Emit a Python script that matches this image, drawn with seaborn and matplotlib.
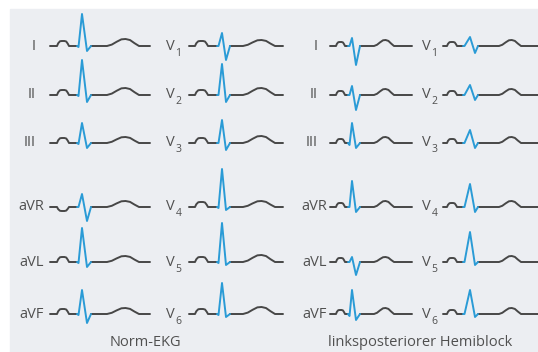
import matplotlib
matplotlib.use("Agg")
import matplotlib.pyplot as plt
import seaborn as sns
from matplotlib.patches import Rectangle

# ─── Data (amplitudes in px, positive = up) ──────────────────────────────────
LIMB_LEADS = ["I", "II", "III", "aVR", "aVL", "aVF"]
CHEST_LEADS = ["1", "2", "3", "4", "5", "6"]
ROW_Y = [46, 95, 143, 207, 262, 314]

norm_limb_p = [5, 5, 5, -4, 5, 5]
norm_limb_q = [1, 1, 1, 0, 1, 1]
norm_limb_r = [32, 35, 20, 13, 34, 24]
norm_limb_s = [5, 7, 5, 14, 5, 9]
norm_limb_t = [7, 7, 6, 6, 6, 6]

norm_chest_p = [5, 5, 5, 5, 5, 5]
norm_chest_q = [0, 0, 0, 1, 1, 1]
norm_chest_r = [13, 31, 23, 38, 39, 31]
norm_chest_s = [14, 7, 7, 3, 3, 3]
norm_chest_t = [6, 7, 7, 6, 7, 7]

lphb_limb_p = [4, 4, 4, 4, 4, 4]
lphb_limb_q = [0, 0, 2, 0, 0, 2]
lphb_limb_r = [8, 9, 20, 26, 5, 24]
lphb_limb_s = [19, 15, 5, 5, 13, 6]
lphb_limb_t = [6, 6, 6, 6, 5, 6]

lphb_chest_p = [4, 4, 4, 4, 4, 4]
lphb_chest_q = [0, 0, 0, 0, 0, 0]
lphb_chest_r = [9, 10, 13, 23, 30, 24]
lphb_chest_s = [7, 5, 5, 5, 3, 3]
lphb_chest_t = [6, 6, 6, 6, 6, 6]

PANEL_TITLES = ["Norm-EKG", "linksposteriorer Hemiblock"]

# ─── Style ───────────────────────────────────────────────────────────────────
BLUE = "#2a9bd6"
TRACE = "#474747"
TEXT = "#505050"
BG = "#eceef2"
FONT = ["Open Sans", "DejaVu Sans"]

# column layouts: trace start x, P (start, end), QRS (start, R, S, end), T (start, end), end
LAYOUTS = {
    "norm_limb":  dict(x0=50,  p=(7, 19), qrs=(27, 32, 37, 41), t=(57, 89), end=100),
    "norm_chest": dict(x0=189, p=(6, 19), qrs=(28, 33, 37, 41), t=(54, 86), end=94),
    "lphb_limb":  dict(x0=330, p=(6, 15), qrs=(18, 22, 26, 30), t=(44, 64), end=82),
    "lphb_chest": dict(x0=443, p=(4, 14), qrs=(20, 27, 32, 35), t=(56, 78), end=95),
}
P_SHAPE = [(0, 0), (0.1, 0.55), (0.25, 0.95), (0.4, 1), (0.62, 1), (0.77, 0.9), (0.9, 0.45), (1, 0)]
T_SHAPE = [(0, 0), (0.15, 0.2), (0.3, 0.6), (0.45, 0.95), (0.58, 1), (0.72, 0.85), (0.86, 0.4), (1, 0)]


def bump(x_a, x_b, h, shape):
    return [(x_a + f * (x_b - x_a), h * v) for f, v in shape]


def beat(lay, y0, p, q, r, s, t):
    x0 = lay["x0"]
    pa, pb = lay["p"]
    qa, qr, qs, qe = lay["qrs"]
    ta, tb = lay["t"]
    pre = [(0, 0)] + bump(pa, pb, p, P_SHAPE) + [(qa, 0)]
    qrs = [(qa, 0), (qa + 1.5, -q), (qr, r), (qs, -s), (qe, 0)]
    post = [(qe, 0)] + bump(ta, tb, t, T_SHAPE) + [(lay["end"], 0)]
    conv = lambda pts: ([x0 + a for a, _ in pts], [y0 - b for _, b in pts])
    return conv(pre), conv(qrs), conv(post)


def draw(ax, lay, y0, amps):
    pre, qrs, post = beat(lay, y0, *amps)
    for (xs, ys), col in ((pre, TRACE), (post, TRACE), (qrs, BLUE)):
        sns.lineplot(x=xs, y=ys, sort=False, estimator=None, color=col,
                     linewidth=1.4, ax=ax, solid_joinstyle="round")


sns.set_theme(style="white")
plt.rcParams["font.family"] = FONT

fig = plt.figure(figsize=(5.38, 3.52), dpi=100)
ax = fig.add_axes([0, 0, 1, 1])
ax.add_patch(Rectangle((10, 9), 540, 350, color=BG, zorder=0))

panels = [
    ("norm", 36, 44, 175,
     (norm_limb_p, norm_limb_q, norm_limb_r, norm_limb_s, norm_limb_t),
     (norm_chest_p, norm_chest_q, norm_chest_r, norm_chest_s, norm_chest_t)),
    ("lphb", 318, 327, 431,
     (lphb_limb_p, lphb_limb_q, lphb_limb_r, lphb_limb_s, lphb_limb_t),
     (lphb_chest_p, lphb_chest_q, lphb_chest_r, lphb_chest_s, lphb_chest_t)),
]

for key, x_roman, x_avx, x_v, limb, chest in panels:
    for i, y0 in enumerate(ROW_Y):
        draw(ax, LAYOUTS[key + "_limb"], y0, [a[i] for a in limb])
        draw(ax, LAYOUTS[key + "_chest"], y0, [a[i] for a in chest])
        lead = LIMB_LEADS[i]
        xl = x_avx if lead.startswith("a") else x_roman
        ax.text(xl, y0, lead, ha="right", va="center", fontsize=10.5, color=TEXT)
        ax.text(x_v, y0, "V", ha="right", va="center", fontsize=10.5, color=TEXT)
        ax.text(x_v + 0.5, y0 + 7, CHEST_LEADS[i], ha="left", va="center",
                fontsize=7.5, color=TEXT)

ax.text(145, 342, PANEL_TITLES[0], ha="center", va="center", fontsize=10.5, color=TEXT)
ax.text(420, 342, PANEL_TITLES[1], ha="center", va="center", fontsize=10.5, color=TEXT)

ax.set_xlim(0, 538)
ax.set_ylim(352, 0)
ax.axis("off")
fig.savefig("out.png", dpi=100, facecolor="white")
